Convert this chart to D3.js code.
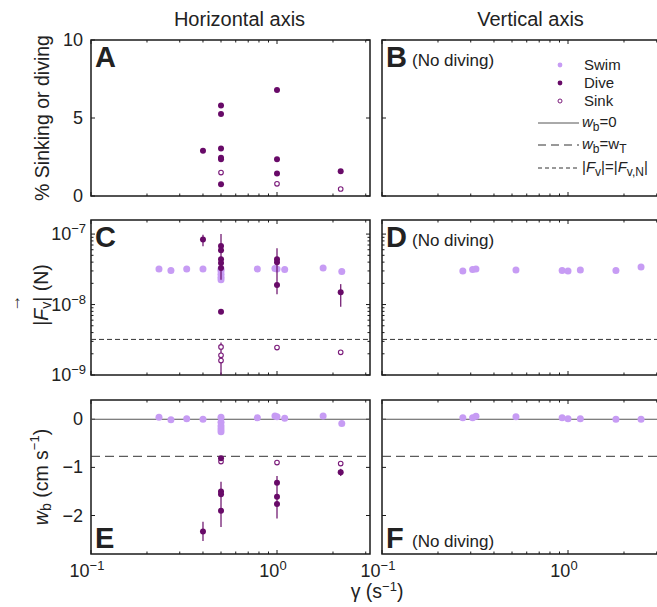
<!DOCTYPE html>
<html><head><meta charset="utf-8">
<script src="https://cdn.jsdelivr.net/npm/d3@7"></script>
<style>body{margin:0;background:#fff}svg{display:block;font-family:"Liberation Sans",Arial,sans-serif}</style>
</head><body><svg id="c" width="657" height="607"></svg>
<script>
// ---------- data ----------
const columnTitles = ["Horizontal axis", "Vertical axis"];
const xTickVals = [0.1, 1];
const xTickExp = ["\u22121", "0"];
const aTickVals = [0, 5, 10];
const cTickVals = [1e-9, 1e-8, 1e-7];
const cTickExp = ["\u22129", "\u22128", "\u22127"];
const eTickVals = [0, -1, -2];
const eTickText = ["0", "\u22121", "\u22122"];

// Panel A: % sinking or diving (horizontal axis)
const aDiveGamma = [0.4, 0.5, 0.5, 0.5, 0.5, 0.5, 0.5, 1.0, 1.0, 1.0, 2.2];
const aDiveValue = [2.9, 5.8, 5.25, 3.05, 2.45, 2.35, 0.75, 6.8, 2.35, 1.45, 1.58];
const aSinkGamma = [0.5, 1.0, 2.2];
const aSinkValue = [1.5, 0.78, 0.45];

// Horizontal-axis swim gammas (panels C and E)
const hSwimGamma = [0.232, 0.269, 0.327, 0.40, 0.5, 0.5, 0.5, 0.5, 0.5, 0.784, 0.975, 1.0, 1.1, 1.77, 2.23];
const cSwimForce = [3.2e-8, 3.05e-8, 3.2e-8, 3.2e-8, 3.2e-8, 3.0e-8, 2.7e-8, 2.45e-8, 2.25e-8, 3.2e-8, 3.25e-8, 3.2e-8, 3.15e-8, 3.3e-8, 2.95e-8];
const eSwimWb = [0.04, -0.01, 0.01, 0.0, 0.04, -0.06, -0.14, -0.2, -0.26, 0.03, 0.07, 0.05, 0.02, 0.07, -0.09];

// Panel C dive / sink
const cDiveGamma = [0.4, 0.5, 0.5, 0.5, 0.5, 0.5, 0.5, 1.0, 1.0, 1.0, 2.2];
const cDiveForce = [8.4e-8, 6.8e-8, 5.9e-8, 4.4e-8, 3.9e-8, 3.3e-8, 7.9e-9, 4.4e-8, 4.0e-8, 1.9e-8, 1.5e-8];
const cSinkGamma = [0.5, 0.5, 0.5, 1.0, 2.2];
const cSinkForce = [2.5e-9, 1.9e-9, 1.6e-9, 2.45e-9, 2.1e-9];
const cErrGamma = [0.4, 0.5, 1.0, 2.2, 0.5];
const cErrLow = [6.7e-8, 2.24e-8, 1.4e-8, 9.3e-9, 1e-9];
const cErrHigh = [9.8e-8, 1.0e-7, 6.3e-8, 1.95e-8, 2.9e-9];
const forceThreshold = 3.2e-9;

// Panel E dive / sink
const eDiveGamma = [0.4, 0.5, 0.5, 0.5, 0.5, 1.0, 1.0, 1.0, 2.2];
const eDiveWb = [-2.33, -0.81, -1.5, -1.56, -1.9, -1.32, -1.61, -1.76, -1.1];
const eSinkGamma = [0.5, 1.0, 2.2];
const eSinkWb = [-0.88, -0.9, -0.92];
const eErrGamma = [0.4, 0.5, 1.0, 2.2];
const eErrLow = [-2.53, -2.24, -2.06, -1.18];
const eErrHigh = [-2.13, -1.3, -1.18, -1.03];
const wTerminal = -0.77;

// Vertical axis swim (panels D and F)
const vSwimGamma = [0.272, 0.307, 0.32, 0.525, 0.93, 1.0, 1.165, 1.81, 2.47];
const dSwimForce = [3.0e-8, 3.15e-8, 3.2e-8, 3.1e-8, 3.05e-8, 3.0e-8, 3.1e-8, 3.05e-8, 3.4e-8];
const fSwimWb = [0.03, 0.03, 0.06, 0.05, 0.03, 0.01, 0.01, 0.0, 0.0];

// ---------- style ----------
const SWIM = "#c79cf4", DIVE = "#680a68", SINK = "#7a1a7a", FRAME = "#1a1a1a";
const svg = d3.select("#c");
const W = 279;
const colX = [91, 382];
const rows = [{y: 40, h: 156}, {y: 220, h: 155}, {y: 400, h: 154}];

const x = d3.scaleLog().domain([0.1, Math.pow(10, 0.5)]).range([0, W]);
const yA = d3.scaleLinear().domain([0, 10]).range([rows[0].h, 0]);
const yC = d3.scaleLog().domain([1e-9, Math.pow(10, -6.8)]).range([rows[1].h, 0]);
const yE = d3.scaleLinear().domain([-2.8, 0.4]).range([rows[2].h, 0]);

const xMinor = [0.2,0.3,0.4,0.5,0.6,0.7,0.8,0.9,2,3];
const cMinor = [];
[1e-9, 1e-8].forEach(b => { for (let k = 2; k <= 9; k++) cMinor.push(b * k); });

const TICKFS = 18;
function sup(sel, base, exp, fs) {
  sel.append("tspan").text(base);
  sel.append("tspan").attr("dy", -7).attr("font-size", fs).text(exp);
}

function panel(ci, ri, yScale, yMajor, yMinor, showYLabels, showXLabels) {
  const g = svg.append("g").attr("transform", `translate(${colX[ci]},${rows[ri].y})`);
  const h = rows[ri].h;
  g.append("defs").append("clipPath").attr("id", `cp${ci}${ri}`)
    .append("rect").attr("width", W).attr("height", h);
  const ticks = g.append("g").attr("stroke", FRAME).attr("stroke-width", 1);
  xTickVals.forEach(v => {
    ticks.append("line").attr("x1", x(v)).attr("x2", x(v)).attr("y1", h).attr("y2", h - 4);
    ticks.append("line").attr("x1", x(v)).attr("x2", x(v)).attr("y1", 0).attr("y2", 4);
  });
  xMinor.forEach(v => {
    ticks.append("line").attr("x1", x(v)).attr("x2", x(v)).attr("y1", h).attr("y2", h - 2.5);
    ticks.append("line").attr("x1", x(v)).attr("x2", x(v)).attr("y1", 0).attr("y2", 2.5);
  });
  yMajor.forEach(v => {
    ticks.append("line").attr("x1", 0).attr("x2", 4).attr("y1", yScale(v)).attr("y2", yScale(v));
    ticks.append("line").attr("x1", W).attr("x2", W - 4).attr("y1", yScale(v)).attr("y2", yScale(v));
  });
  yMinor.forEach(v => {
    ticks.append("line").attr("x1", 0).attr("x2", 2.5).attr("y1", yScale(v)).attr("y2", yScale(v));
    ticks.append("line").attr("x1", W).attr("x2", W - 2.5).attr("y1", yScale(v)).attr("y2", yScale(v));
  });
  g.append("rect").attr("width", W).attr("height", h).attr("fill", "none")
    .attr("stroke", FRAME).attr("stroke-width", 1.5);
  const plot = g.append("g").attr("clip-path", `url(#cp${ci}${ri})`);
  if (showXLabels) {
    xTickVals.forEach((v, i) => {
      const t = g.append("text").attr("x", x(v) - 4).attr("y", h + 23)
        .attr("text-anchor", "middle").attr("font-size", TICKFS).attr("fill", "#222");
      sup(t, "10", xTickExp[i], 13);
    });
  }
  return {g, plot, h};
}

// ---------- column titles ----------
columnTitles.forEach((t, i) => {
  svg.append("text").attr("x", colX[i] + W / 2 + 9).attr("y", 26).attr("text-anchor", "middle")
    .attr("font-size", 20).attr("fill", "#222").text(t);
});

// ---------- Panel A ----------
const pA = panel(0, 0, yA, aTickVals, [], true, false);
aTickVals.forEach(v => pA.g.append("text").attr("x", -8).attr("y", yA(v) + 6)
  .attr("text-anchor", "end").attr("font-size", TICKFS).attr("fill", "#222").text(v));
aDiveGamma.forEach((gm, i) => pA.plot.append("circle").attr("cx", x(gm)).attr("cy", yA(aDiveValue[i]))
  .attr("r", 3).attr("fill", DIVE));
aSinkGamma.forEach((gm, i) => pA.plot.append("circle").attr("cx", x(gm)).attr("cy", yA(aSinkValue[i]))
  .attr("r", 2.3).attr("fill", "#fff").attr("stroke", SINK).attr("stroke-width", 1.1));

// ---------- Panel B ----------
const pB = panel(1, 0, yA, aTickVals, [], false, false);

// ---------- Panel C ----------
const pC = panel(0, 1, yC, cTickVals, cMinor, true, false);
cTickVals.forEach((v, i) => {
  const t = pC.g.append("text").attr("x", -5).attr("y", yC(v) + 6)
    .attr("text-anchor", "end").attr("font-size", TICKFS).attr("fill", "#222");
  sup(t, "10", cTickExp[i], 13);
});
pC.plot.append("line").attr("x1", 0).attr("x2", W).attr("y1", yC(forceThreshold)).attr("y2", yC(forceThreshold))
  .attr("stroke", "#333").attr("stroke-width", 1).attr("stroke-dasharray", "5,3");
hSwimGamma.forEach((gm, i) => pC.plot.append("circle").attr("cx", x(gm)).attr("cy", yC(cSwimForce[i]))
  .attr("r", 3.5).attr("fill", SWIM));
cErrGamma.forEach((gm, i) => pC.plot.append("line").attr("x1", x(gm)).attr("x2", x(gm))
  .attr("y1", yC(cErrLow[i])).attr("y2", yC(cErrHigh[i])).attr("stroke", DIVE).attr("stroke-width", 1.4).attr("opacity", 0.85));
cDiveGamma.forEach((gm, i) => pC.plot.append("circle").attr("cx", x(gm)).attr("cy", yC(cDiveForce[i]))
  .attr("r", 3).attr("fill", DIVE));
cSinkGamma.forEach((gm, i) => pC.plot.append("circle").attr("cx", x(gm)).attr("cy", yC(cSinkForce[i]))
  .attr("r", 2.3).attr("fill", "#fff").attr("stroke", SINK).attr("stroke-width", 1.1));

// ---------- Panel D ----------
const pD = panel(1, 1, yC, cTickVals, cMinor, false, false);
pD.plot.append("line").attr("x1", 0).attr("x2", W).attr("y1", yC(forceThreshold)).attr("y2", yC(forceThreshold))
  .attr("stroke", "#333").attr("stroke-width", 1).attr("stroke-dasharray", "5,3");
vSwimGamma.forEach((gm, i) => pD.plot.append("circle").attr("cx", x(gm)).attr("cy", yC(dSwimForce[i]))
  .attr("r", 3.5).attr("fill", SWIM));

// ---------- Panel E ----------
const pE = panel(0, 2, yE, eTickVals, [], true, true);
eTickVals.forEach((v, i) => pE.g.append("text").attr("x", -8).attr("y", yE(v) + 6)
  .attr("text-anchor", "end").attr("font-size", TICKFS).attr("fill", "#222").text(eTickText[i]));
pE.plot.append("line").attr("x1", 0).attr("x2", W).attr("y1", yE(0)).attr("y2", yE(0))
  .attr("stroke", "#555").attr("stroke-width", 1);
pE.plot.append("line").attr("x1", 0).attr("x2", W).attr("y1", yE(wTerminal)).attr("y2", yE(wTerminal))
  .attr("stroke", "#333").attr("stroke-width", 1).attr("stroke-dasharray", "9,5");
hSwimGamma.forEach((gm, i) => pE.plot.append("circle").attr("cx", x(gm)).attr("cy", yE(eSwimWb[i]))
  .attr("r", 3.5).attr("fill", SWIM));
eErrGamma.forEach((gm, i) => pE.plot.append("line").attr("x1", x(gm)).attr("x2", x(gm))
  .attr("y1", yE(eErrLow[i])).attr("y2", yE(eErrHigh[i])).attr("stroke", DIVE).attr("stroke-width", 1.4).attr("opacity", 0.85));
eSinkGamma.forEach((gm, i) => pE.plot.append("circle").attr("cx", x(gm)).attr("cy", yE(eSinkWb[i]))
  .attr("r", 2.3).attr("fill", "#fff").attr("stroke", SINK).attr("stroke-width", 1.1));
eDiveGamma.forEach((gm, i) => pE.plot.append("circle").attr("cx", x(gm)).attr("cy", yE(eDiveWb[i]))
  .attr("r", 3).attr("fill", DIVE));

// ---------- Panel F ----------
const pF = panel(1, 2, yE, eTickVals, [], false, true);
pF.plot.append("line").attr("x1", 0).attr("x2", W).attr("y1", yE(0)).attr("y2", yE(0))
  .attr("stroke", "#555").attr("stroke-width", 1);
pF.plot.append("line").attr("x1", 0).attr("x2", W).attr("y1", yE(wTerminal)).attr("y2", yE(wTerminal))
  .attr("stroke", "#333").attr("stroke-width", 1).attr("stroke-dasharray", "9,5");
vSwimGamma.forEach((gm, i) => pF.plot.append("circle").attr("cx", x(gm)).attr("cy", yE(fSwimWb[i]))
  .attr("r", 3.5).attr("fill", SWIM));

// ---------- panel letters ----------
const letters = [
  {p: pA, l: "A", top: true, note: ""}, {p: pB, l: "B", top: true, note: "(No diving)"},
  {p: pC, l: "C", top: true, note: ""}, {p: pD, l: "D", top: true, note: "(No diving)"},
  {p: pE, l: "E", top: false, note: ""}, {p: pF, l: "F", top: false, note: "(No diving)"}
];
letters.forEach(d => {
  const by = d.top ? 27 : d.p.h - 6;
  d.p.g.append("text").attr("x", 4).attr("y", by).attr("font-size", 29).attr("font-weight", "bold")
    .attr("fill", "#222").text(d.l);
  if (d.note) d.p.g.append("text").attr("x", 30).attr("y", by - 1).attr("font-size", 17)
    .attr("fill", "#222").text(d.note);
});

// ---------- y axis labels ----------
svg.append("text").attr("transform", "translate(42,118) rotate(-90)").attr("text-anchor", "middle")
  .attr("dominant-baseline", "central").attr("font-size", 19.5).attr("fill", "#222").text("% Sinking or diving");
const fl = svg.append("g").attr("transform", "translate(41,295) rotate(-90)");
const flt = fl.append("text").attr("text-anchor", "middle").attr("dominant-baseline", "central")
  .attr("font-size", 19.5).attr("fill", "#222");
flt.append("tspan").text("|");
flt.append("tspan").attr("font-style", "italic").text("F");
flt.append("tspan").attr("dy", 5).attr("font-size", 14).text("v");
flt.append("tspan").attr("dy", -5).text("| (N)");
fl.append("text").attr("x", -8).attr("y", -21).attr("text-anchor", "middle").attr("font-size", 17)
  .attr("fill", "#222").text("\u2192");
const wl = svg.append("text").attr("transform", "translate(41,477) rotate(-90)").attr("text-anchor", "middle")
  .attr("dominant-baseline", "central").attr("font-size", 19.5).attr("fill", "#222");
wl.append("tspan").attr("font-style", "italic").text("w");
wl.append("tspan").attr("dy", 5).attr("font-size", 14).text("b");
wl.append("tspan").attr("dy", -5).text(" (cm s");
wl.append("tspan").attr("dy", -7).attr("font-size", 13).text("\u22121");
wl.append("tspan").attr("dy", 7).text(")");

// ---------- x axis label ----------
const xl = svg.append("text").attr("x", 377).attr("y", 598).attr("text-anchor", "middle")
  .attr("font-size", 19.5).attr("fill", "#222");
xl.append("tspan").text("\u03b3 (s");
xl.append("tspan").attr("dy", -7).attr("font-size", 13).text("\u22121");
xl.append("tspan").attr("dy", 7).text(")");

// ---------- legend ----------
const lg = svg.append("g");
const legMarks = [{t: "Swim", y: 65, k: "swim"}, {t: "Dive", y: 83, k: "dive"}, {t: "Sink", y: 101, k: "sink"}];
legMarks.forEach(d => {
  const c = lg.append("circle").attr("cx", 560).attr("cy", d.y).attr("r", d.k === "sink" ? 2 : 2.4);
  if (d.k === "swim") c.attr("fill", SWIM);
  else if (d.k === "dive") c.attr("fill", DIVE);
  else c.attr("fill", "#fff").attr("stroke", SINK).attr("stroke-width", 1);
  lg.append("text").attr("x", 584).attr("y", d.y + 5).attr("font-size", 15).attr("fill", "#222").text(d.t);
});
const legLines = [{y: 123, dash: null, c: "#555"}, {y: 145, dash: "8,5", c: "#333"}, {y: 168, dash: "4,3", c: "#333"}];
legLines.forEach(d => {
  const l = lg.append("line").attr("x1", 538).attr("x2", 579).attr("y1", d.y).attr("y2", d.y)
    .attr("stroke", d.c).attr("stroke-width", 1);
  if (d.dash) l.attr("stroke-dasharray", d.dash);
});
const t1 = lg.append("text").attr("x", 582).attr("y", 127).attr("font-size", 15).attr("fill", "#222");
t1.append("tspan").attr("font-style", "italic").text("w");
t1.append("tspan").attr("dy", 4).attr("font-size", 12).text("b");
t1.append("tspan").attr("dy", -4).text("=0");
const t2 = lg.append("text").attr("x", 582).attr("y", 149).attr("font-size", 15).attr("fill", "#222");
t2.append("tspan").attr("font-style", "italic").text("w");
t2.append("tspan").attr("dy", 4).attr("font-size", 12).text("b");
t2.append("tspan").attr("dy", -4).text("=w");
t2.append("tspan").attr("dy", 4).attr("font-size", 12).text("T");
const t3 = lg.append("text").attr("x", 582).attr("y", 172).attr("font-size", 15).attr("fill", "#222");
t3.append("tspan").text("|");
t3.append("tspan").attr("font-style", "italic").text("F");
t3.append("tspan").attr("dy", 4).attr("font-size", 12).text("v");
t3.append("tspan").attr("dy", -4).text("|=|");
t3.append("tspan").attr("font-style", "italic").text("F");
t3.append("tspan").attr("dy", 4).attr("font-size", 12).text("v,N");
t3.append("tspan").attr("dy", -4).text("|");
</script></body></html>
